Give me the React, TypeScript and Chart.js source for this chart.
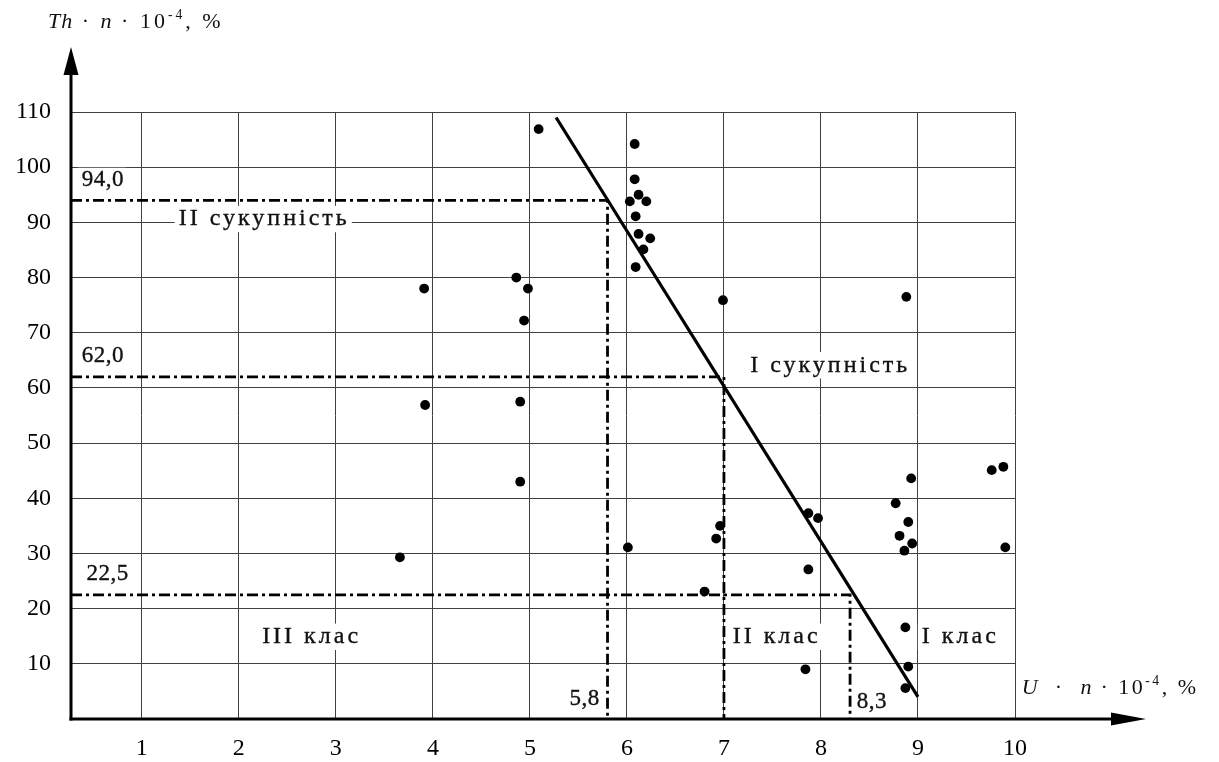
import React, { useEffect, useRef } from 'react';
import { Chart, registerables } from 'chart.js';

Chart.register(...registerables);

const FONT = '"Liberation Serif", "Times New Roman", serif';

// ---- data ----
const X_TICKS = [1, 2, 3, 4, 5, 6, 7, 8, 9, 10];
const Y_TICKS = [10, 20, 30, 40, 50, 60, 70, 80, 90, 100, 110];
const X_MIN = 0.27;
const X_MAX = 10;
const Y_MIN = 0;
const Y_MAX = 110;

const U_VALUES = [
  5.09, 6.08, 6.08, 6.12, 6.03, 6.2, 6.09, 6.12, 6.24, 6.17, 6.09,
  4.86, 3.91, 4.98, 4.94, 6.99, 8.88, 3.92, 4.9, 4.9,
  6.96, 6.92, 7.87, 7.97, 3.66, 6.01, 6.8, 7.87, 7.84,
  8.77, 8.9, 8.81, 8.94, 8.86, 9.9, 8.87, 8.9, 8.87, 8.93, 9.76, 9.88,
];
const TH_VALUES = [
  106.9, 104.2, 97.8, 95.0, 93.8, 93.8, 91.1, 87.9, 87.1, 85.1, 81.9,
  80.0, 78.0, 78.0, 72.2, 75.9, 76.5, 56.9, 57.5, 43.0,
  35.0, 32.7, 37.3, 36.4, 29.3, 31.1, 23.1, 27.1, 9.0,
  39.1, 35.7, 33.2, 31.8, 30.5, 31.1, 16.6, 9.5, 5.6, 43.6, 45.1, 45.7,
];

const TREND_X = [5.27, 9.0];
const TREND_Y = [109, 4];

const LEVELS = [94.0, 62.0, 22.5];
const CUTS = [5.8, 7.0, 8.3];

const LEVEL_LABELS = ['94,0', '62,0', '22,5'];
const CUT_LABELS = ['5,8', '8,3'];
const REGION_LABELS = ['II сукупність', 'I сукупність', 'III клас', 'II клас', 'I клас'];

// ---- label placement (data coordinates) ----
type Lbl = { text: string; x: number; y: number; align: 'left' | 'right'; size: number; spacing: number; bg: boolean };
const TEXT_LABELS: Lbl[] = [
  { text: LEVEL_LABELS[0], x: 0.38, y: 97.6, align: 'left', size: 23, spacing: 0.5, bg: true },
  { text: LEVEL_LABELS[1], x: 0.38, y: 65.8, align: 'left', size: 23, spacing: 0.5, bg: true },
  { text: LEVEL_LABELS[2], x: 0.43, y: 26.3, align: 'left', size: 23, spacing: 0.5, bg: true },
  { text: CUT_LABELS[0], x: 5.72, y: 3.6, align: 'right', size: 23, spacing: 0.5, bg: false },
  { text: CUT_LABELS[1], x: 8.37, y: 3.1, align: 'left', size: 23, spacing: 0.5, bg: false },
  { text: REGION_LABELS[0], x: 1.38, y: 90.6, align: 'left', size: 24, spacing: 3, bg: true },
  { text: REGION_LABELS[1], x: 7.27, y: 64.1, align: 'left', size: 24, spacing: 3, bg: true },
  { text: REGION_LABELS[2], x: 2.24, y: 14.9, align: 'left', size: 24, spacing: 3, bg: true },
  { text: REGION_LABELS[3], x: 7.09, y: 14.9, align: 'left', size: 24, spacing: 3, bg: true },
  { text: REGION_LABELS[4], x: 9.04, y: 14.9, align: 'left', size: 24, spacing: 3, bg: true },
];

type Run = { t: string; italic?: boolean; sup?: boolean };
const Y_TITLE: Run[] = [
  { t: 'Th', italic: true }, { t: ' · ' }, { t: 'n', italic: true }, { t: ' · 10' }, { t: '-4', sup: true }, { t: ', %' },
];
const X_TITLE: Run[] = [
  { t: 'U', italic: true }, { t: '  ·  ' }, { t: 'n', italic: true }, { t: ' · 10' }, { t: '-4', sup: true }, { t: ', %' },
];

function setSpacing(ctx: any, s: number) {
  if ('letterSpacing' in ctx) ctx.letterSpacing = `${s}px`;
}

function drawLabel(ctx: CanvasRenderingContext2D, l: Lbl, px: number, py: number) {
  ctx.font = `${l.size}px ${FONT}`;
  setSpacing(ctx, l.spacing);
  const w = ctx.measureText(l.text).width;
  const left = l.align === 'right' ? px - w : px;
  if (l.bg) {
    ctx.fillStyle = '#fff';
    ctx.fillRect(left - 4, py - l.size * 0.55, w + 6, l.size * 1.1);
  }
  ctx.fillStyle = '#111';
  ctx.strokeStyle = '#111';
  ctx.lineWidth = 0.35;
  ctx.textAlign = 'left';
  ctx.textBaseline = 'middle';
  ctx.fillText(l.text, left, py);
  ctx.strokeText(l.text, left, py);
}

function drawRuns(ctx: CanvasRenderingContext2D, runs: Run[], x: number, y: number, size: number, spacing: number) {
  let cx = x;
  ctx.textAlign = 'left';
  ctx.textBaseline = 'middle';
  ctx.fillStyle = '#111';
  for (const r of runs) {
    const sz = r.sup ? size * 0.62 : size;
    ctx.font = `${r.italic ? 'italic ' : ''}${sz}px ${FONT}`;
    setSpacing(ctx, r.italic ? 1 : spacing);
    ctx.fillText(r.t, cx, r.sup ? y - size * 0.3 : y);
    cx += ctx.measureText(r.t).width;
  }
}

const overlayPlugin = {
  id: 'overlay',
  beforeDatasetsDraw(chart: any) {
    const { ctx, scales } = chart;
    ctx.save();
    for (const l of TEXT_LABELS) {
      drawLabel(ctx, l, scales.x.getPixelForValue(l.x), scales.y.getPixelForValue(l.y));
    }
    ctx.restore();
  },
  afterDraw(chart: any) {
    const { ctx, chartArea, scales } = chart;
    const { left, right, top, bottom } = chartArea;
    ctx.save();
    ctx.strokeStyle = '#000';
    ctx.fillStyle = '#000';
    ctx.lineWidth = 3;
    // y axis
    ctx.beginPath();
    ctx.moveTo(left, bottom + 1.5);
    ctx.lineTo(left, top - 45);
    ctx.stroke();
    ctx.beginPath();
    ctx.moveTo(left, top - 65);
    ctx.lineTo(left - 7.5, top - 37);
    ctx.lineTo(left + 7.5, top - 37);
    ctx.closePath();
    ctx.fill();
    // x axis
    ctx.beginPath();
    ctx.moveTo(left - 1.5, bottom);
    ctx.lineTo(right + 105, bottom);
    ctx.stroke();
    ctx.beginPath();
    ctx.moveTo(right + 131, bottom);
    ctx.lineTo(right + 96, bottom - 6.5);
    ctx.lineTo(right + 96, bottom + 6.5);
    ctx.closePath();
    ctx.fill();
    // titles
    drawRuns(ctx, Y_TITLE, left - 23, top - 90, 22, 3);
    drawRuns(ctx, X_TITLE, scales.x.getPixelForValue(10.07), scales.y.getPixelForValue(5.6), 22, 2.5);
    ctx.restore();
  },
};

export default function App() {
  const ref = useRef<HTMLCanvasElement>(null);
  useEffect(() => {
    const points = U_VALUES.map((u, i) => ({ x: u, y: TH_VALUES[i] }));
    const trend = TREND_X.map((x, i) => ({ x, y: TREND_Y[i] }));
    const guides = LEVELS.map((lv, i) => ({
      type: 'scatter' as const,
      data: [
        { x: X_MIN, y: lv },
        { x: CUTS[i], y: lv },
        { x: CUTS[i], y: Y_MIN },
      ],
      showLine: true,
      borderColor: '#000',
      borderWidth: 2.8,
      borderDash: [11, 4, 3, 4],
      pointRadius: 0,
      fill: false,
    }));
    const GRID = '#404040';
    const chart = new Chart(ref.current!, {
      type: 'scatter',
      data: {
        datasets: [
          {
            data: points,
            backgroundColor: '#000',
            borderWidth: 0,
            pointRadius: 4.9,
          },
          {
            data: trend,
            showLine: true,
            borderColor: '#000',
            borderWidth: 3.2,
            pointRadius: 0,
          } as any,
          ...(guides as any[]),
        ],
      },
      options: {
        animation: false,
        responsive: false,
        layout: { padding: { left: 0, right: 204, top: 112, bottom: 0 } },
        plugins: { legend: { display: false }, tooltip: { enabled: false } },
        scales: {
          x: {
            type: 'linear',
            min: X_MIN,
            max: X_MAX,
            afterBuildTicks: (ax: any) => {
              ax.ticks = X_TICKS.map((v) => ({ value: v }));
            },
            afterFit: (s: any) => {
              s.height = 43;
            },
            grid: { color: GRID, lineWidth: 1, drawTicks: false },
            border: { display: false },
            ticks: {
              font: { family: FONT, size: 24 },
              color: '#000',
              padding: 15,
              maxRotation: 0,
              autoSkip: false,
            },
          },
          y: {
            type: 'linear',
            min: Y_MIN,
            max: Y_MAX,
            afterBuildTicks: (ax: any) => {
              ax.ticks = Y_TICKS.map((v) => ({ value: v }));
            },
            afterFit: (s: any) => {
              s.width = 71;
            },
            grid: { color: GRID, lineWidth: 1, drawTicks: false },
            border: { display: false },
            ticks: {
              font: { family: FONT, size: 24 },
              color: '#000',
              padding: 20,
              autoSkip: false,
            },
          },
        },
      },
      plugins: [overlayPlugin],
    });
    return () => chart.destroy();
  }, []);
  return (
    <div style={{ position: 'absolute', left: 0, top: 0, width: 1219, height: 762, background: '#fff' }}>
      <canvas ref={ref} width={1219} height={762} style={{ display: 'block' }} />
    </div>
  );
}
